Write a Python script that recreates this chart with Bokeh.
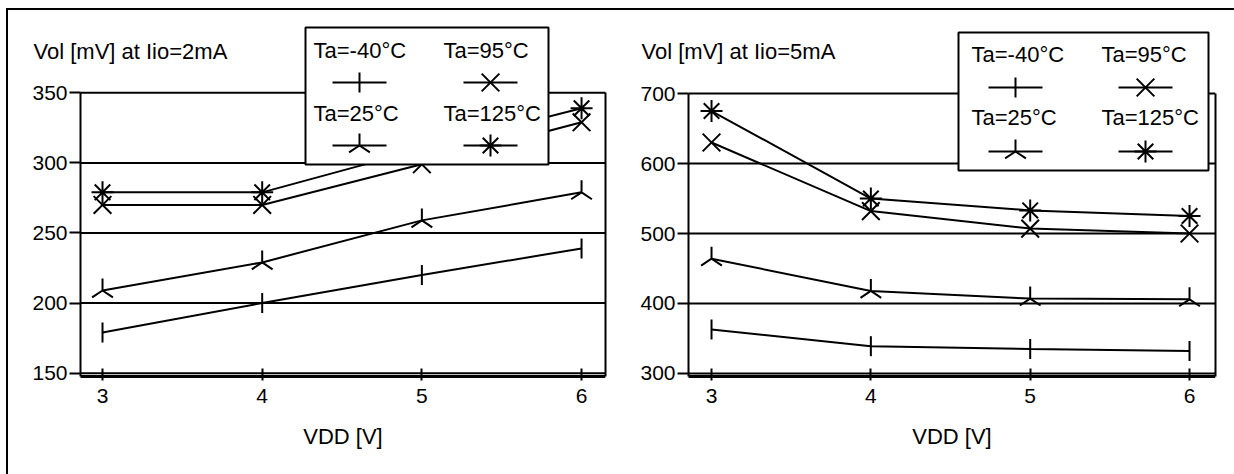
import math
from bokeh.plotting import figure
from bokeh.models import Range1d, FixedTicker, LinearAxis, Label, ColumnDataSource
from bokeh.layouts import row
from bokeh.embed import file_html
from bokeh.resources import INLINE
from bokeh.core.properties import value

# ---------------- data ----------------
vdd = [3, 4, 5, 6]
x_ticks = [3, 4, 5, 6]
series_labels = ["Ta=-40°C", "Ta=25°C", "Ta=95°C", "Ta=125°C"]

vol_2mA_m40 = [179, 200, 220, 239]
vol_2mA_25 = [209, 229, 259, 279]
vol_2mA_95 = [270, 270, 299, 329]
vol_2mA_125 = [279, 279, 310, 339]
ticks_2mA = [150, 200, 250, 300, 350]

vol_5mA_m40 = [363, 339, 335, 332]
vol_5mA_25 = [464, 418, 407, 406]
vol_5mA_95 = [630, 532, 507, 500]
vol_5mA_125 = [675, 550, 533, 525]
ticks_5mA = [300, 400, 500, 600, 700]

# ---------------- style ----------------
FONT = "Liberation Sans"
# (marker, angle, size) for -40, 25, 95, 125 degC
MARKERS = [("dash", math.pi / 2, 20), ("y", math.pi, 24), ("x", 0.0, 25), ("asterisk", 0.0, 22)]
FIG_H = 464
PAGE_Y0 = 10        # page y of figure top
FRAME_TOP = 20      # page y of frame top
FRAME_H = 454       # frame reaches figure bottom


def make_chart(title, series, yticks, width, page_x0, frame_left, frame_w, xr,
               box_left, box_bottom, yr, leg):
    p = figure(width=width, height=FIG_H, output_backend="svg", toolbar_location=None,
               x_range=Range1d(*xr), y_range=Range1d(*yr),
               min_border_left=frame_left, min_border_right=width - frame_left - frame_w,
               min_border_top=FRAME_TOP - PAGE_Y0, min_border_bottom=0)
    p.outline_line_color = None
    p.background_fill_color = "white"
    p.border_fill_color = "white"
    p.xgrid.visible = False
    p.ygrid.visible = False

    fx0 = page_x0 + frame_left

    def sx(px):
        return xr[0] + (px - fx0) / frame_w * (xr[1] - xr[0])

    def sy(py):
        return yr[1] - (py - FRAME_TOP) / FRAME_H * (yr[1] - yr[0])

    xa = p.xaxis[0]
    xa.fixed_location = box_bottom
    xa.ticker = FixedTicker(ticks=x_ticks)
    xa.bounds = (box_left, xr[1])
    xa.major_tick_in = 8
    xa.major_tick_out = 4
    xa.major_tick_line_width = 2
    xa.minor_tick_line_color = None
    xa.axis_line_width = 3
    xa.major_label_text_font = FONT
    xa.major_label_text_font_size = "21px"
    xa.major_label_text_color = "black"
    xa.major_label_standoff = 8
    xa.axis_label = "VDD [V]"
    xa.axis_label_text_font = FONT
    xa.axis_label_text_font_size = "22px"
    xa.axis_label_text_font_style = "normal"
    xa.axis_label_text_color = "black"
    xa.axis_label_standoff = 18

    ya = p.yaxis[0]
    ya.fixed_location = box_left
    ya.ticker = FixedTicker(ticks=yticks)
    ya.bounds = (box_bottom, yticks[-1])
    ya.major_tick_in = 0
    ya.major_tick_out = 11
    ya.major_tick_line_width = 2
    ya.minor_tick_line_color = None
    ya.axis_line_width = 2
    ya.major_label_text_font = FONT
    ya.major_label_text_font_size = "21px"
    ya.major_label_text_color = "black"
    ya.major_label_standoff = 2

    ra = LinearAxis(ticker=FixedTicker(ticks=[]), bounds=(box_bottom, yticks[-1]),
                    axis_line_width=2, major_tick_line_color=None, minor_tick_line_color=None,
                    major_label_text_font_size="0px")
    p.add_layout(ra, "right")

    # horizontal grid lines across the plot box, at the y ticks
    p.segment(x0=[box_left] * len(yticks), x1=[xr[1]] * len(yticks), y0=yticks, y1=yticks,
              line_color="black", line_width=2)

    for ys, (mk, ang, sz) in zip(series, MARKERS):
        src = ColumnDataSource(dict(x=vdd, y=ys))
        p.line("x", "y", source=src, line_color="black", line_width=2)
        p.scatter("x", "y", source=src, marker=mk, angle=ang, size=sz,
                  line_color="black", line_width=2, fill_color=None)

    # legend (box + 2x2 entries with text above sample)
    bx0, by0, bx1, by1 = leg["box"]
    p.quad(left=[sx(bx0)], right=[sx(bx1)], top=[sy(by0)], bottom=[sy(by1)],
           fill_color="white", line_color="black", line_width=2)
    cols_m = leg["col_marker"]
    cols_t = leg["col_text"]
    rows_t = leg["row_text"]
    rows_m = leg["row_marker"]
    half = 27
    order = [(0, 0), (0, 1), (1, 0), (1, 1)]  # (col,row) for each series
    for lbl, (mk, ang, sz), (c, r) in zip(series_labels, MARKERS, order):
        p.segment(x0=[sx(cols_m[c] - half)], y0=[sy(rows_m[r])],
                  x1=[sx(cols_m[c] + half)], y1=[sy(rows_m[r])],
                  line_color="black", line_width=2)
        p.scatter(x=[sx(cols_m[c])], y=[sy(rows_m[r])], marker=mk, angle=ang, size=sz,
                  line_color="black", line_width=2, fill_color=None)
        p.text(x=[sx(cols_t[c])], y=[sy(rows_t[r])], text=[lbl], text_font=value(FONT),
               text_font_size="22px", text_color="black", text_align="left",
               text_baseline="middle")

    frame_bottom_page = FRAME_TOP + FRAME_H
    p.add_layout(Label(x=leg["title_x"] - fx0, y=frame_bottom_page - leg["title_y"],
                       x_units="screen", y_units="screen", text=title,
                       text_font=FONT, text_font_size="22px", text_color="black",
                       text_baseline="middle", text_align="left"))
    return p


p1 = make_chart("Vol [mV] at Iio=2mA",
                [vol_2mA_m40, vol_2mA_25, vol_2mA_95, vol_2mA_125], ticks_2mA,
                width=612, page_x0=8, frame_left=12, frame_w=585,
                xr=(2.4864, 6.150), box_left=2.8622, box_bottom=147.6, yr=(77.7, 401.6),
                leg=dict(box=(305, 27, 548, 164), col_marker=(359, 490), col_text=(313, 443),
                         row_text=(50, 113), row_marker=(82, 145), title_x=33, title_y=51))

p2 = make_chart("Vol [mV] at Iio=5mA",
                [vol_5mA_m40, vol_5mA_25, vol_5mA_95, vol_5mA_125], ticks_5mA,
                width=614, page_x0=620, frame_left=10, frame_w=585,
                xr=(2.4915, 6.163), box_left=2.8556, box_bottom=295.7, yr=(155.7, 804.3),
                leg=dict(box=(958, 32, 1208, 170), col_marker=(1015, 1145), col_text=(971, 1101),
                         row_text=(54, 117), row_marker=(87, 151), title_x=641, title_y=51))

layout = row(p1, p2, margin=(8, 0, 0, 6),
             styles={"border-top": "2px solid black", "border-left": "2px solid black"})

open("out.html", "w").write(file_html(layout, INLINE))
